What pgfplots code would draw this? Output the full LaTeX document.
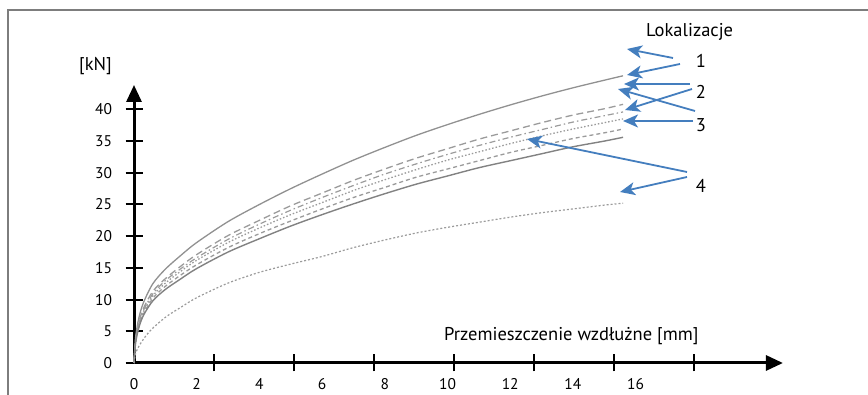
\documentclass[border=0pt]{standalone}
\usepackage{fontspec}
\setmainfont{PT Sans}
\usepackage{pgfplots}
\pgfplotsset{compat=1.18}
\usetikzlibrary{arrows.meta}
\definecolor{arrblue}{RGB}{68,126,190}
\definecolor{framegray}{RGB}{125,125,125}
\definecolor{c1}{RGB}{145,145,145}
\definecolor{c2}{RGB}{155,155,155}
\definecolor{c3}{RGB}{130,130,130}
\begin{document}
\begin{tikzpicture}
\useasboundingbox (0pt,0pt) rectangle (868pt,395pt);
\draw[framegray, line width=1.5pt] (8pt,-2pt) -- (8pt,385pt) -- (870pt,385pt);
\begin{axis}[
  at={(134pt,32pt)}, anchor=origin,
  x=31.35pt, y=6.34pt,
  xmin=0, xmax=20.7, ymin=0, ymax=43.85,
  enlargelimits=false, clip=false,
  axis lines=left,
  axis line style={line width=3pt, black, -{Triangle[length=17pt,width=15pt]}},
  tick style={line width=2pt, black},
  tick align=center,
  major tick length=17pt,
  xtick={2.55,5.1,7.65,10.2,12.75,15.3,17.85},
  xticklabels={,,,,,,,},
  extra x ticks={0,2,4,6,8,10,12,14,16},
  extra x tick labels={0,2,4,6,8,10,12,14,16},
  extra x tick style={major tick length=0pt, tick style={draw=none},
     xticklabel style={anchor=north, yshift=-12pt}},
  ytick={0,5,10,15,20,25,30,35,40},
  yticklabel style={anchor=east, xshift=-10pt},
  ticklabel style={font=\fontsize{15.5}{18}\selectfont},
  /pgf/number format/assume math mode=true,
]
\addplot[c1, line width=1.3pt, smooth] coordinates {(0,0)(0.05,4)(0.15,7)(0.3,9.5)(0.6,12.5)(1,14.8)(1.5,17)(2,19)(3,22.3)(4,25)(5,27.5)(6,29.8)(7,32)(8,34)(9,35.9)(10,37.6)(11,39.2)(12,40.7)(13,42.1)(14,43.4)(15,44.6)(15.6,45.3)};
\addplot[c2, line width=1.3pt, smooth, dash pattern=on 7pt off 4pt] coordinates {(0,0)(0.05,3.6)(0.15,6.3)(0.3,8.6)(0.6,11.3)(1,13.3)(1.5,15.3)(2,17.1)(3,20.1)(4,22.5)(5,24.8)(6,26.8)(7,28.8)(8,30.6)(9,32.3)(10,33.8)(11,35.3)(12,36.6)(13,37.9)(14,39.1)(15,40.1)(15.6,40.8)};
\addplot[c2, line width=1.2pt, smooth, dash pattern=on 6pt off 3pt on 1.5pt off 3pt] coordinates {(0,0)(0.05,3.5)(0.15,6.1)(0.3,8.3)(0.6,10.9)(1,13)(1.5,14.9)(2,16.6)(3,19.5)(4,21.9)(5,24.1)(6,26.1)(7,28)(8,29.8)(9,31.4)(10,32.9)(11,34.3)(12,35.6)(13,36.8)(14,38)(15,39)(15.6,39.6)};
\addplot[c2, line width=1.3pt, smooth, dash pattern=on 1.5pt off 2pt] coordinates {(0,0)(0.05,3.4)(0.15,6)(0.3,8.1)(0.6,10.6)(1,12.6)(1.5,14.5)(2,16.2)(3,19)(4,21.3)(5,23.4)(6,25.3)(7,27.2)(8,28.9)(9,30.5)(10,32)(11,33.3)(12,34.6)(13,35.8)(14,36.9)(15,37.9)(15.6,38.5)};
\addplot[c2, line width=1.3pt, smooth, dash pattern=on 4pt off 3pt] coordinates {(0,0)(0.05,3.3)(0.15,5.7)(0.3,7.7)(0.6,10.2)(1,12.1)(1.5,13.9)(2,15.5)(3,18.2)(4,20.4)(5,22.4)(6,24.3)(7,26.1)(8,27.7)(9,29.3)(10,30.6)(11,31.9)(12,33.2)(13,34.3)(14,35.4)(15,36.3)(15.6,36.9)};
\addplot[c3, line width=1.4pt, smooth] coordinates {(0,0)(0.05,3.1)(0.15,5.5)(0.3,7.5)(0.6,9.8)(1,11.6)(1.5,13.3)(2,14.9)(3,17.5)(4,19.6)(5,21.6)(6,23.4)(7,25.1)(8,26.7)(9,28.2)(10,29.5)(11,30.8)(12,31.9)(13,33)(14,34.1)(15,35)(15.6,35.6)};
\addplot[c2, line width=1.2pt, smooth, dash pattern=on 2pt off 2pt] coordinates {(0,0)(0.05,1.5)(0.2,3)(0.5,5)(1,7.2)(1.5,8.8)(2,10.3)(3,12.6)(4,14.3)(5,15.6)(6,16.8)(7,18.2)(8,19.4)(9,20.5)(10,21.4)(11,22.2)(12,23)(13,23.7)(14,24.3)(15,24.9)(15.6,25.2)};
\end{axis}
\begin{scope}[font=\fontsize{18.5}{22}\selectfont]
\node[anchor=base west, inner sep=0pt] at (79pt,324pt) {[kN]};
\node[anchor=base west, inner sep=0pt] at (444pt,54pt) {Przemieszczenie wzdłużne [mm]};
\node[anchor=base west, inner sep=0pt] at (646pt,358pt) {Lokalizacje};
\node[anchor=base, inner sep=0pt] at (701pt,327pt) {1};
\node[anchor=base, inner sep=0pt] at (701pt,296pt) {2};
\node[anchor=base, inner sep=0pt] at (701pt,263pt) {3};
\node[anchor=base, inner sep=0pt] at (701pt,202pt) {4};
\end{scope}
\begin{scope}[arrblue, line width=1.8pt, -{Stealth[length=15pt,width=13pt,inset=4pt]}]
\draw (673pt,337pt) -- (627pt,346pt);
\draw (680pt,331pt) -- (627pt,320pt);
\draw (690pt,311pt) -- (624pt,311pt);
\draw (692pt,306pt) -- (625pt,285pt);
\draw (695pt,284pt) -- (618pt,306pt);
\draw (693pt,274pt) -- (623pt,274pt);
\draw (687pt,223pt) -- (527pt,256pt);
\draw (687pt,218pt) -- (620pt,203pt);
\end{scope}
\end{tikzpicture}
\end{document}
